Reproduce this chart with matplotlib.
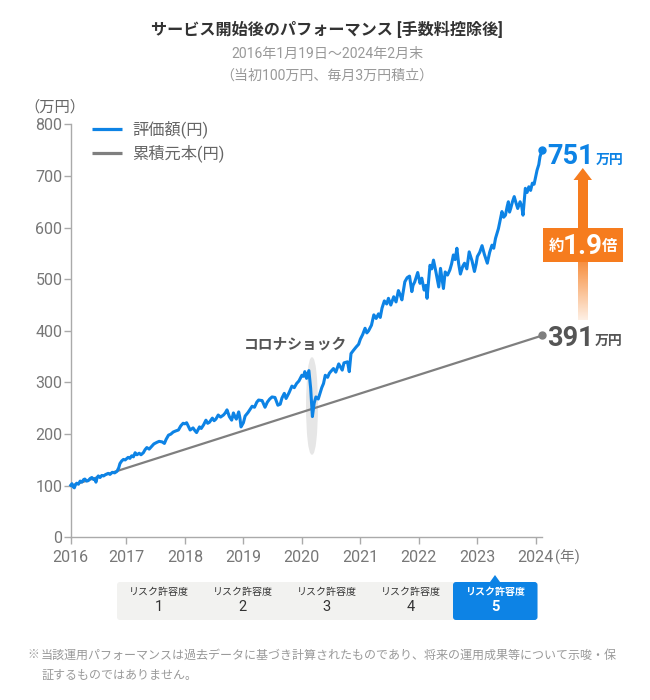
import numpy as np
import matplotlib
matplotlib.use("Agg")
import matplotlib.pyplot as plt
from matplotlib.patches import Ellipse, FancyBboxPatch, Polygon, Rectangle

plt.rcParams['font.family'] = ['Roboto', 'Noto Sans CJK JP', 'DejaVu Sans']

# 評価額 (decimal year, 万円)
years = [
    2016.05, 2016.07, 2016.09, 2016.11, 2016.13, 2016.15, 2016.18, 2016.21, 2016.24, 2016.27, 2016.29, 2016.32,
    2016.35, 2016.38, 2016.41, 2016.44, 2016.46, 2016.48, 2016.50, 2016.52, 2016.55, 2016.58, 2016.61, 2016.65,
    2016.69, 2016.72, 2016.76, 2016.80, 2016.84, 2016.87, 2016.89, 2016.92, 2016.95, 2016.98,
    2017.03, 2017.06, 2017.09, 2017.12, 2017.15, 2017.18, 2017.22, 2017.25, 2017.29, 2017.32, 2017.35, 2017.39,
    2017.43, 2017.47, 2017.52, 2017.56, 2017.61, 2017.65, 2017.68, 2017.72, 2017.76, 2017.80, 2017.84, 2017.89,
    2017.93, 2017.97,
    2018.00, 2018.03, 2018.06, 2018.09, 2018.14, 2018.17, 2018.20, 2018.25, 2018.28, 2018.32, 2018.36, 2018.39,
    2018.42, 2018.47, 2018.50, 2018.53, 2018.57, 2018.61, 2018.66, 2018.69, 2018.72, 2018.76, 2018.80, 2018.83,
    2018.86, 2018.88, 2018.92, 2018.94, 2018.96,
    2019.00, 2019.03, 2019.08, 2019.15, 2019.19, 2019.23, 2019.26, 2019.32, 2019.37, 2019.41, 2019.45, 2019.49,
    2019.54, 2019.59, 2019.63, 2019.66, 2019.70, 2019.73, 2019.78, 2019.83, 2019.87, 2019.91, 2019.95,
    2020.00, 2020.03, 2020.05, 2020.08, 2020.12, 2020.15, 2020.18, 2020.21, 2020.24, 2020.28, 2020.31, 2020.34,
    2020.37, 2020.40, 2020.44, 2020.47, 2020.50, 2020.54, 2020.58, 2020.63, 2020.69, 2020.72, 2020.78, 2020.81,
    2020.84, 2020.88, 2020.93, 2020.97,
    2021.00, 2021.04, 2021.08, 2021.11, 2021.14, 2021.19, 2021.23, 2021.27, 2021.31, 2021.34, 2021.37, 2021.41,
    2021.45, 2021.48, 2021.52, 2021.57, 2021.61, 2021.65, 2021.68, 2021.71, 2021.76, 2021.80, 2021.84, 2021.88,
    2021.90, 2021.93, 2021.98,
    2022.02, 2022.05, 2022.09, 2022.12, 2022.14, 2022.19, 2022.22, 2022.25, 2022.29, 2022.34, 2022.37, 2022.42,
    2022.45, 2022.49, 2022.53, 2022.56, 2022.59, 2022.62, 2022.65, 2022.68, 2022.71, 2022.75, 2022.78, 2022.82,
    2022.86, 2022.91, 2022.95, 2022.98,
    2023.00, 2023.04, 2023.08, 2023.12, 2023.17, 2023.21, 2023.25, 2023.28, 2023.31, 2023.34, 2023.36, 2023.39,
    2023.42, 2023.45, 2023.48, 2023.51, 2023.53, 2023.55, 2023.57, 2023.60, 2023.63, 2023.66, 2023.69, 2023.73,
    2023.76, 2023.78, 2023.82, 2023.85, 2023.88, 2023.91, 2023.94, 2023.97,
    2024.02, 2024.05, 2024.07, 2024.11,
]
values = [
    101, 104, 98, 96, 102, 105, 103, 109, 107, 112, 113, 109,
    110, 114, 116, 112, 113, 107, 116, 119, 116, 120, 119, 122,
    124, 122, 126, 125, 128, 135, 143, 148, 151, 150,
    155, 153, 158, 156, 164, 160, 163, 160, 164, 170, 174, 171,
    176, 181, 184, 186, 185, 182, 190, 198, 200, 204, 206, 208,
    216, 221,
    220, 222, 215, 208, 212, 207, 203, 214, 211, 218, 227, 221,
    223, 231, 226, 229, 237, 233, 237, 241, 247, 234, 227, 241,
    233, 229, 243, 232, 214,
    222, 235, 242, 254, 252, 262, 266, 265, 252, 262, 268, 272,
    271, 256, 258, 270, 279, 269, 280, 293, 290, 298, 303,
    314, 312, 321, 308, 323, 289, 234, 260, 272, 268, 279, 290,
    298, 314, 310, 318, 322, 327, 320, 336, 324, 338, 340, 321,
    356, 362, 369, 374,
    384, 393, 405, 396, 400, 411, 431, 424, 433, 426, 444, 458,
    452, 463, 450, 466, 456, 478, 470, 460, 495, 503, 506, 476,
    488, 495, 513,
    492, 502, 479, 488, 463, 527, 520, 537, 515, 485, 521, 482,
    514, 508, 518, 530, 547, 538, 560, 530, 510, 525, 531, 520,
    553, 535, 515, 530,
    544, 552, 565, 548, 531, 552, 566, 560, 579, 590, 598, 615,
    631, 620, 624, 641, 650, 630, 637, 650, 660, 648, 637, 650,
    640, 624, 676, 668, 679, 672, 686, 684,
    711, 722, 737, 751,
]

# 累積元本
principal_years = [2016.05, 2024.11]
principal_values = [100, 391]

x_ticks = [2017, 2018, 2019, 2020, 2021, 2022, 2023, 2024]
x_labels = ['2016', '2017', '2018', '2019', '2020', '2021', '2022', '2023', '2024']
y_ticks = [0, 100, 200, 300, 400, 500, 600, 700, 800]
risk_levels = ['1', '2', '3', '4', '5']

BLUE = '#0d83e5'
GRAY = '#7f7f7f'
ORANGE = '#f67c1e'
W, H = 650, 700

fig = plt.figure(figsize=(W / 100, H / 100), dpi=100)
ax = fig.add_axes([70.8 / W, 1 - 537.4 / H, 471.5 / W, 413.1 / H])
ax.patch.set_alpha(0)

# overlay in pixel coordinates for the annotations
ov = fig.add_axes([0, 0, 1, 1], zorder=5)
ov.set_axis_off()
ov.patch.set_alpha(0)

ax.set_xlim(2016.05, 2024.11)
ax.set_ylim(0, 800)
for s in ['top', 'right']:
    ax.spines[s].set_visible(False)
for s in ['left', 'bottom']:
    ax.spines[s].set_color('#aaaaaa')
    ax.spines[s].set_linewidth(1)

ax.set_xticks([2016.05] + x_ticks)
ax.set_xticklabels(x_labels)
ax.set_yticks(y_ticks)
ax.tick_params(axis='both', color='#aaaaaa', labelcolor='#777777', labelsize=11.5, length=5, width=1)
ax.tick_params(axis='x', pad=4)
ax.tick_params(axis='y', pad=1)

ax.add_patch(Ellipse((312, 406), 10.5, 96, transform=ov.transData, color='#e6e6e6', zorder=1, clip_on=False))
ax.plot(principal_years, principal_values, color=GRAY, lw=1.6, zorder=2, clip_on=False)
ax.plot(years, values, color=BLUE, lw=2.2, zorder=3, clip_on=False, solid_joinstyle='round')
ax.plot(principal_years[-1], principal_values[-1], 'o', color=GRAY, ms=5, zorder=4, clip_on=False)
ax.plot(years[-1], values[-1], 'o', color=BLUE, ms=5, zorder=4, clip_on=False)

# gradient part of the arrow
rgb = matplotlib.colors.to_rgb(ORANGE)
grad = np.zeros((100, 1, 4))
grad[:, 0, :3] = rgb
grad[:, 0, 3] = np.linspace(0.85, 0.12, 100)
ov.imshow(grad, extent=(578, 587.5, 320, 262), aspect='auto', interpolation='bilinear')
ov.set_xlim(0, W)
ov.set_ylim(H, 0)

ov.add_patch(Rectangle((578, 178), 9.5, 52, color=ORANGE, lw=0))
ov.add_patch(Polygon([(582.8, 168), (592, 180), (573.5, 180)], closed=True, color=ORANGE, lw=0))
ov.add_patch(Rectangle((543, 228), 80, 33.5, color=ORANGE, lw=0))


def label(x, y, s, size, color, weight='normal', ha='center'):
    ov.text(x, y, s, fontsize=size, color=color, fontweight=weight, ha=ha, va='center')


label(327, 29, 'サービス開始後のパフォーマンス [手数料控除後]', 11.6, '#333333', 'bold')
label(327, 54, '2016年1月19日～2024年2月末', 10.1, '#999999')
label(327, 76, '（当初100万円、毎月3万円積立）', 10.1, '#999999')
label(55, 107, '（万円）', 11, '#666666')
label(555, 557, '(年)', 10.5, '#777777', ha='left')

ov.plot([91.5, 122], [129, 129], color=BLUE, lw=2.3, solid_capstyle='butt')
ov.plot([91.5, 122], [153, 153], color=GRAY, lw=2.3, solid_capstyle='butt')
label(132, 129, '評価額(円)', 11.7, '#666666', ha='left')
label(132, 153, '累積元本(円)', 11.7, '#666666', ha='left')

label(295, 345, 'コロナショック', 10.6, '#555555', 'bold')

label(547, 157, '751', 19.5, BLUE, 'bold', ha='left')
label(596, 160, '万円', 10, BLUE, 'bold', ha='left')
label(547, 339, '391', 19.5, '#555555', 'bold', ha='left')
label(595, 341, '万円', 10, '#555555', 'bold', ha='left')
label(556, 247, '約', 11, 'white', 'bold')
label(583, 246, '1.9', 20, 'white', 'bold')
label(610, 247, '倍', 11, 'white', 'bold')

# risk tabs
ov.add_patch(FancyBboxPatch((117, 582), 420.5, 38, boxstyle='round,pad=0,rounding_size=3',
                            fc='#f2f2f0', ec='none'))
ov.add_patch(FancyBboxPatch((453, 582), 84.5, 38, boxstyle='round,pad=0,rounding_size=3',
                            fc=BLUE, ec='none'))
ov.add_patch(Polygon([(495, 575), (500, 582), (490, 582)], closed=True, color=BLUE, lw=0))
for i, level in enumerate(risk_levels):
    cx = 158.5 + i * 84.1
    col = 'white' if i == 4 else '#333333'
    label(cx, 592.5, 'リスク許容度', 7.2, col, 'bold' if i == 4 else 'normal')
    label(cx, 607, level, 10.5, col, 'bold' if i == 4 else 'normal')

# footnote
label(27, 655, '※', 8.6, '#999999', ha='left')
label(41, 655, '当該運用パフォーマンスは過去データに基づき計算されたものであり、将来の運用成果等について示唆・保', 8.65, '#999999', ha='left')
label(41, 675, '証するものではありません。', 8.65, '#999999', ha='left')

fig.savefig('out.png', dpi=100)
